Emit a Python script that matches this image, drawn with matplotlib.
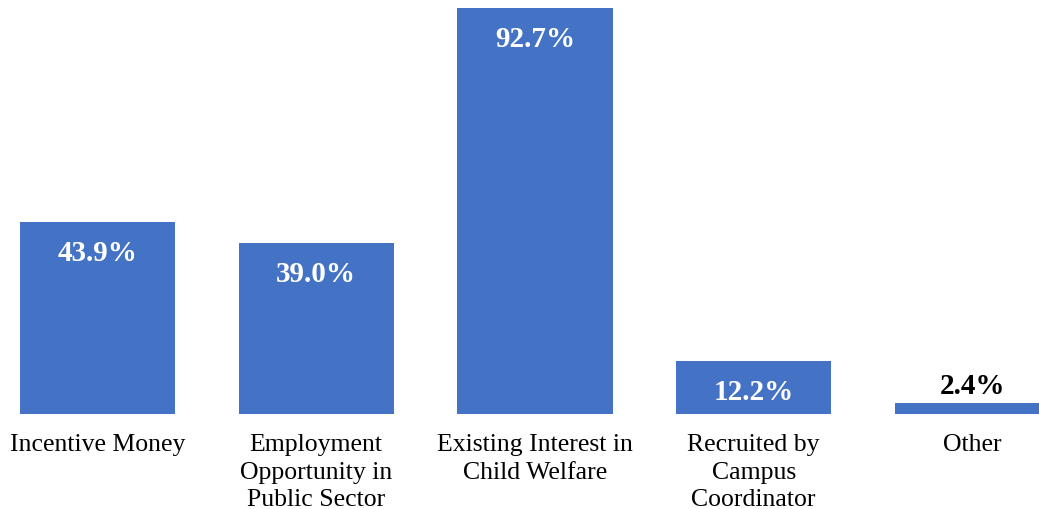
import matplotlib.pyplot as plt

categories = ["Incentive Money", "Employment\nOpportunity in\nPublic Sector",
              "Existing Interest in\nChild Welfare", "Recruited by\nCampus\nCoordinator",
              "Other"]
values = [43.9, 39.0, 92.7, 12.2, 2.4]
labels = ["43.9%", "39.0%", "92.7%", "12.2%", "2.4%"]

plt.rcParams['font.family'] = ['Liberation Serif', 'DejaVu Serif']

fig = plt.figure(figsize=(10.39, 5.10), dpi=100)
ax = fig.add_axes([0, 95/510, 1, 406/510])

x = range(len(values))
bars = ax.bar(x, values, width=0.709, color='#4472C4')

for b, v, lab in zip(bars, values, labels):
    cx = b.get_x() + b.get_width() / 2
    if v > 8:
        ax.annotate(lab, (cx, v), xytext=(0, -22), textcoords='offset points',
                    ha='center', va='center', color='white', fontsize=21,
                    fontweight='bold')
    else:
        ax.annotate(lab, (cx, v), xytext=(0, 3), textcoords='offset points',
                    ha='center', va='bottom', color='black', fontsize=21,
                    fontweight='bold')

ax.set_xlim(-97.5/218.75, (1039-97.5)/218.75)
ax.set_ylim(0, 92.7)
ax.set_xticks(list(x))
ax.set_xticklabels(categories, fontsize=18.5, linespacing=1.3)
ax.tick_params(axis='x', length=0, pad=14)
ax.set_yticks([])
for s in ax.spines.values():
    s.set_visible(False)

fig.savefig('out.png', dpi=100)
